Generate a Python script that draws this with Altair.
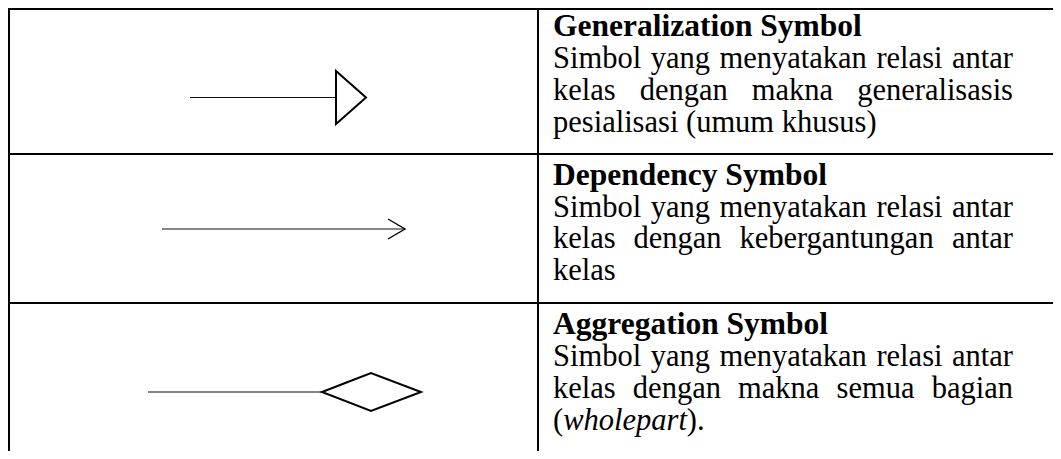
import altair as alt
import pandas as pd

# ---------------- values ----------------
# page-pixel coordinate system (x to the right, y downward)
PAGE_X = [8, 1053]
PAGE_Y = [8, 451]

# table grid
H_LINE_Y = [9, 154, 303]          # horizontal rules
H_LINE_X = [8, 1061]
V_LINE_X = [9, 538]               # vertical rules
V_LINE_Y = [8, 459]

# text block
TEXT_LEFT = 553
TEXT_RIGHT = 1013
HEAD_SIZE = 31.5
BODY_SIZE = 30.5
HEADINGS = ["Generalization Symbol", "Dependency Symbol", "Aggregation Symbol"]
HEADING_Y = [36, 185, 334]
BODY_Y = [[68, 100, 132], [217, 248, 280], [366, 398, 430]]
BODY_LINES = [
    ["Simbol yang menyatakan relasi antar",
     "kelas dengan makna generalisasis",
     "pesialisasi (umum khusus)"],
    ["Simbol yang menyatakan relasi antar",
     "kelas dengan kebergantungan antar",
     "kelas"],
    ["Simbol yang menyatakan relasi antar",
     "kelas dengan makna semua bagian",
     None],
]
LAST_LINE_ROW3 = [("(", "normal"), ("wholepart", "italic"), (").", "normal")]

# symbols (left column)
CONNECTOR_X1 = [190, 162, 148]
CONNECTOR_X2 = [336, 405, 322]
CONNECTOR_Y = [97.5, 229, 392]
TRIANGLE_X = [336, 336, 366, 336, 336]
TRIANGLE_Y = [97.5, 71, 97.5, 124, 97.5]
OPEN_HEAD_X = [388, 405, 388]
OPEN_HEAD_Y = [219, 229, 239]
DIAMOND_X = [346.5, 371, 421, 371, 322, 346.5]
DIAMOND_Y = [382.5, 373, 392, 411, 392, 382.5]

# Times / Liberation Serif advance widths (per 1000 em)
REG_W = {" ": 250, "(": 333, ")": 333, ".": 250, "S": 556, "a": 444, "b": 500,
         "d": 500, "e": 444, "g": 500, "i": 278, "k": 500, "l": 278, "m": 778,
         "n": 500, "o": 500, "r": 333, "s": 389, "t": 278, "u": 500, "y": 500,
         "z": 444, "h": 500, "p": 500, "w": 722, "c": 444}
ITA_W = {"w": 667, "h": 500, "o": 500, "l": 278, "e": 444, "p": 500, "a": 500,
         "r": 389, "t": 278}


def width(s, table):
    return sum(table.get(c, 500) for c in s) * BODY_SIZE / 1000.0


# ---------------- build tables ----------------
grid = []
for y in H_LINE_Y:
    grid.append({"x": H_LINE_X[0], "x2": H_LINE_X[1], "y": y, "y2": y})
for x in V_LINE_X:
    grid.append({"x": x, "x2": x, "y": V_LINE_Y[0], "y2": V_LINE_Y[1]})
grid_df = pd.DataFrame(grid)

conn_df = pd.DataFrame({"x": CONNECTOR_X1, "x2": CONNECTOR_X2,
                        "y": CONNECTOR_Y, "y2": CONNECTOR_Y})

heads = []
for i, (x, y) in enumerate(zip(TRIANGLE_X, TRIANGLE_Y)):
    heads.append({"shape": "triangle", "i": i, "x": x, "y": y, "sw": 2})
for i, (x, y) in enumerate(zip(OPEN_HEAD_X, OPEN_HEAD_Y)):
    heads.append({"shape": "open", "i": i, "x": x, "y": y, "sw": 1.4})
for i, (x, y) in enumerate(zip(DIAMOND_X, DIAMOND_Y)):
    heads.append({"shape": "diamond", "i": i, "x": x, "y": y, "sw": 2})
heads_df = pd.DataFrame(heads)

head_txt = pd.DataFrame({"x": [TEXT_LEFT] * 3, "y": HEADING_Y, "t": HEADINGS})

left_words, right_words, italic_words = [], [], []
for r, lines in enumerate(BODY_LINES):
    for k, line in enumerate(lines):
        y = BODY_Y[r][k]
        if line is None:
            x = TEXT_LEFT
            for seg, style in LAST_LINE_ROW3:
                rec = {"x": x, "y": y, "t": seg}
                if style == "italic":
                    italic_words.append(rec)
                    x += width(seg, ITA_W)
                else:
                    left_words.append(rec)
                    x += width(seg, REG_W)
            continue
        justify = k < len(lines) - 1
        if not justify:
            left_words.append({"x": TEXT_LEFT, "y": y, "t": line})
            continue
        words = line.split(" ")
        ws = [width(w, REG_W) for w in words]
        gap = (TEXT_RIGHT - TEXT_LEFT - sum(ws)) / (len(words) - 1)
        x = TEXT_LEFT
        for j, (w, wd) in enumerate(zip(words, ws)):
            if j == len(words) - 1:
                right_words.append({"x": TEXT_RIGHT, "y": y, "t": w})
            else:
                left_words.append({"x": x, "y": y, "t": w})
            x += wd + gap

left_df = pd.DataFrame(left_words)
right_df = pd.DataFrame(right_words)
ital_df = pd.DataFrame(italic_words)

# ---------------- chart ----------------
XS = alt.Scale(domain=PAGE_X, nice=False, zero=False)
YS = alt.Scale(domain=PAGE_Y, nice=False, zero=False, reverse=True)


def X(f="x"):
    return alt.X(f"{f}:Q", scale=XS, axis=None)


def Y(f="y"):
    return alt.Y(f"{f}:Q", scale=YS, axis=None)


grid_layer = alt.Chart(grid_df).mark_rule(color="black", strokeWidth=2, clip=True).encode(
    x=X(), x2="x2:Q", y=Y(), y2="y2:Q")

conn_layer = alt.Chart(conn_df).mark_rule(color="#111", strokeWidth=1.1).encode(
    x=X(), x2="x2:Q", y=Y(), y2="y2:Q")

heads_layer = alt.Chart(heads_df).mark_line(
    color="black", strokeJoin="miter", strokeCap="butt").encode(
    x=X(), y=Y(), detail="shape:N", order="i:Q",
    strokeWidth=alt.StrokeWidth("sw:Q", scale=None))

FONT = "Liberation Serif"
head_layer = alt.Chart(head_txt).mark_text(
    font=FONT, fontSize=HEAD_SIZE, fontWeight="bold", align="left",
    baseline="alphabetic", color="black").encode(x=X(), y=Y(), text="t:N")

left_layer = alt.Chart(left_df).mark_text(
    font=FONT, fontSize=BODY_SIZE, align="left", baseline="alphabetic",
    color="black").encode(x=X(), y=Y(), text="t:N")

right_layer = alt.Chart(right_df).mark_text(
    font=FONT, fontSize=BODY_SIZE, align="right", baseline="alphabetic",
    color="black").encode(x=X(), y=Y(), text="t:N")

ital_layer = alt.Chart(ital_df).mark_text(
    font=FONT, fontSize=BODY_SIZE, fontStyle="italic", align="left",
    baseline="alphabetic", color="black").encode(x=X(), y=Y(), text="t:N")

chart = alt.layer(
    grid_layer, conn_layer, heads_layer, head_layer, left_layer, right_layer, ital_layer
).properties(
    width=PAGE_X[1] - PAGE_X[0], height=PAGE_Y[1] - PAGE_Y[0],
    padding=0, autosize="none", background="white"
).configure_view(stroke=None)

chart.save("out.html", embed_options={"renderer": "svg", "actions": False})
